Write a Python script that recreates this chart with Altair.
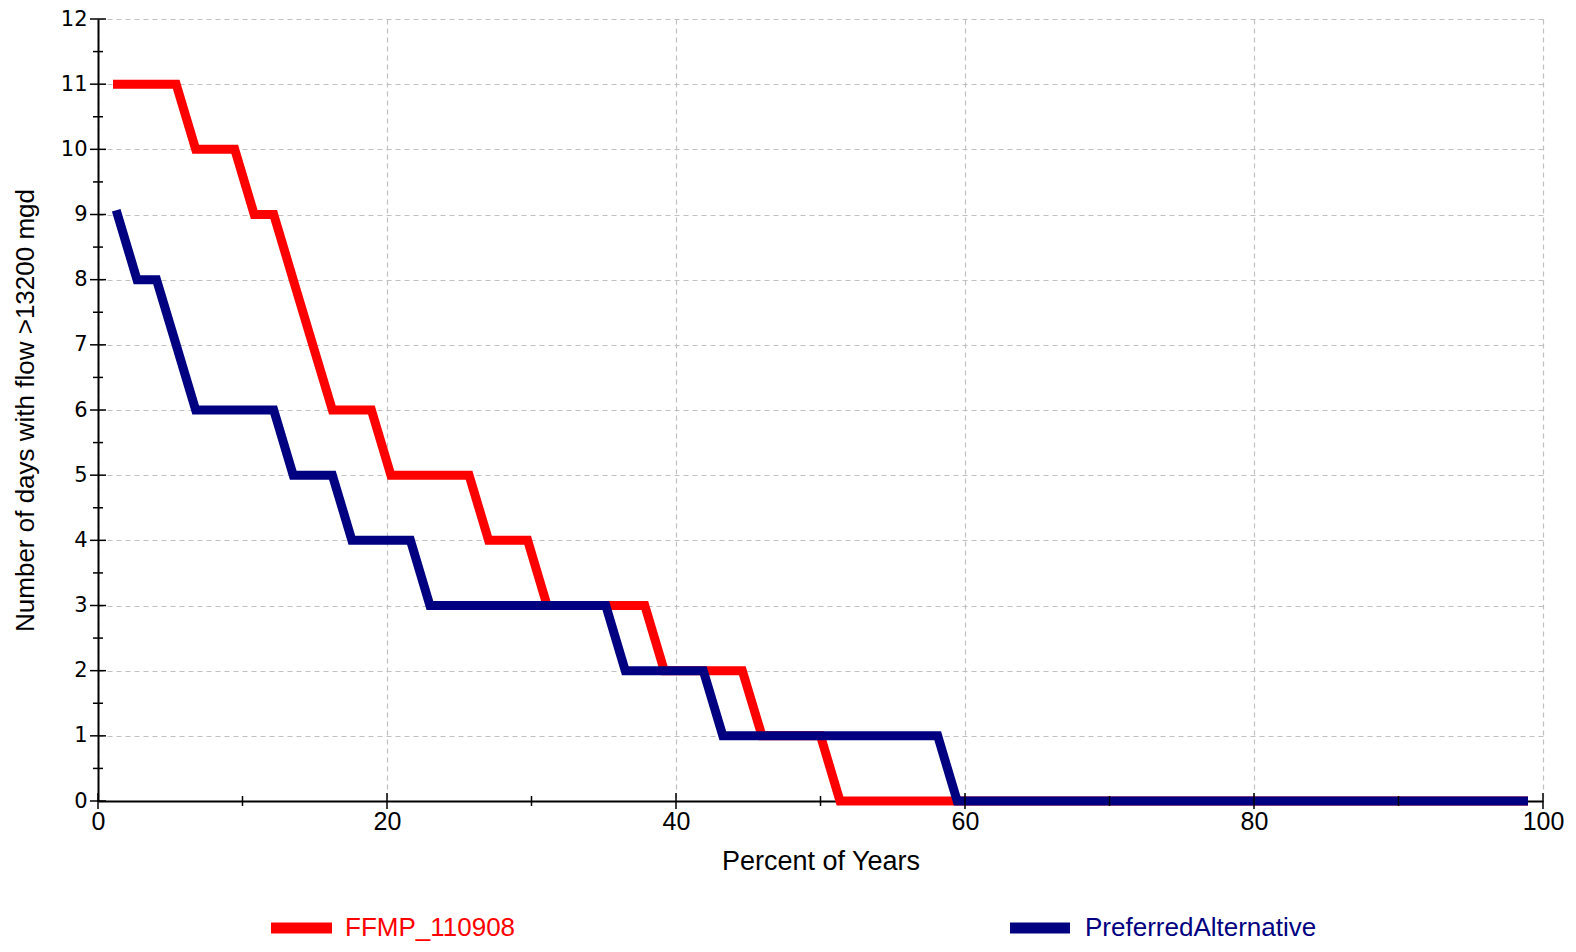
import altair as alt
import pandas as pd

# Exceedance (plotting) positions, percent of years
percent_of_years = [1.35, 2.70, 4.05, 5.41, 6.76, 8.11, 9.46, 10.81, 12.16, 13.51,
                    14.86, 16.22, 17.57, 18.92, 20.27, 21.62, 22.97, 24.32, 25.68, 27.03,
                    28.38, 29.73, 31.08, 32.43, 33.78, 35.14, 36.49, 37.84, 39.19, 40.54,
                    41.89, 43.24, 44.59, 45.95, 47.30, 48.65, 50.00, 51.35, 52.70, 54.05,
                    55.41, 56.76, 58.11, 59.46, 60.81, 62.16, 63.51, 64.86, 66.22, 67.57,
                    68.92, 70.27, 71.62, 72.97, 74.32, 75.68, 77.03, 78.38, 79.73, 81.08,
                    82.43, 83.78, 85.14, 86.49, 87.84, 89.19, 90.54, 91.89, 93.24, 94.59,
                    95.95, 97.30, 98.65]

ffmp_110908 = [11, 11, 11, 11, 10, 10, 10, 9, 9, 8,
               7, 6, 6, 6, 5, 5, 5, 5, 5, 4,
               4, 4, 3, 3, 3, 3, 3, 3, 2, 2,
               2, 2, 2, 1, 1, 1, 1, 0, 0, 0,
               0, 0, 0, 0, 0, 0, 0, 0, 0, 0,
               0, 0, 0, 0, 0, 0, 0, 0, 0, 0,
               0, 0, 0, 0, 0, 0, 0, 0, 0, 0,
               0, 0, 0]

preferred_alternative = [9, 8, 8, 7, 6, 6, 6, 6, 6, 5,
                         5, 5, 4, 4, 4, 4, 3, 3, 3, 3,
                         3, 3, 3, 3, 3, 3, 2, 2, 2, 2,
                         2, 1, 1, 1, 1, 1, 1, 1, 1, 1,
                         1, 1, 1, 0, 0, 0, 0, 0, 0, 0,
                         0, 0, 0, 0, 0, 0, 0, 0, 0, 0,
                         0, 0, 0, 0, 0, 0, 0, 0, 0, 0,
                         0, 0, 0]

series_names = ["FFMP_110908", "PreferredAlternative"]
series_colors = ["#ff0000", "#000080"]

x_major_ticks = [0, 20, 40, 60, 80, 100]
x_minor_ticks = [10, 30, 50, 70, 90]
y_major_ticks = [0, 1, 2, 3, 4, 5, 6, 7, 8, 9, 10, 11, 12]
y_minor_ticks = [0.5, 1.5, 2.5, 3.5, 4.5, 5.5, 6.5, 7.5, 8.5, 9.5, 10.5, 11.5]

W, H = 1445, 782
FONT = "Liberation Sans"


def series_df(name, values):
    return pd.DataFrame({"series": name, "pct": percent_of_years,
                         "days": values, "idx": list(range(len(values)))})


x_scale = alt.Scale(domain=[0, 100], nice=False, zero=False)
y_scale = alt.Scale(domain=[0, 12], nice=False, zero=False)

x_axis = alt.Axis(values=x_major_ticks, ticks=False, tickSize=0,
                  domainColor="black", domainWidth=2,
                  grid=True, gridColor="#c0c0c0", gridDash=[5, 4], gridWidth=1.2,
                  labelFont=FONT, labelFontSize=25, labelColor="black",
                  labelPadding=8, labelFlush=False, labelOverlap=False,
                  title="Percent of Years", titleFont=FONT, titleFontSize=27,
                  titleFontWeight="normal", titleColor="black",
                  titleX=W / 2, titleY=60, titleAlign="center", titleBaseline="middle")

y_axis = alt.Axis(values=y_major_ticks, ticks=False, tickSize=0,
                  domainColor="black", domainWidth=2,
                  grid=True, gridColor="#c0c0c0", gridDash=[5, 4], gridWidth=1.2,
                  labelFont="DejaVu Sans", labelFontSize=21, labelColor="black",
                  labelPadding=11, labelFlush=False, labelOverlap=False,
                  title="Number of days with flow >13200 mgd", titleFont=FONT,
                  titleFontSize=26, titleFontWeight="normal", titleColor="black",
                  titleX=-73, titleY=H / 2, titleAngle=270,
                  titleAlign="center", titleBaseline="middle")


def line_layer(i, values):
    return alt.Chart(series_df(series_names[i], values)).mark_line(
        color=series_colors[i], strokeWidth=9, strokeJoin="miter", strokeCap="square"
    ).encode(
        x=alt.X("pct:Q", scale=x_scale, axis=x_axis, title="Percent of Years"),
        y=alt.Y("days:Q", scale=y_scale, axis=y_axis,
                title="Number of days with flow >13200 mgd"),
        order="idx:Q",
    )


def x_ticks(vals, half):
    return alt.Chart(pd.DataFrame({"v": vals})).mark_rule(color="black", strokeWidth=1.5).encode(
        x=alt.X("v:Q", scale=x_scale, axis=x_axis, title="Percent of Years"),
        y=alt.value(H - half), y2=alt.value(H + half))


def y_ticks(vals, half):
    return alt.Chart(pd.DataFrame({"v": vals})).mark_rule(color="black", strokeWidth=1.5).encode(
        y=alt.Y("v:Q", scale=y_scale, axis=y_axis,
                title="Number of days with flow >13200 mgd"),
        x=alt.value(-half), x2=alt.value(half))


def legend_entry(i, x0, x1, xt, yc):
    d = pd.DataFrame({"series": [series_names[i]]})
    sym = alt.Chart(d).mark_rule(color=series_colors[i], strokeWidth=11, strokeCap="butt").encode(
        x=alt.value(x0), x2=alt.value(x1), y=alt.value(yc))
    txt = alt.Chart(d).mark_text(align="left", baseline="middle", font=FONT, fontSize=26,
                                 color=series_colors[i]).encode(
        x=alt.value(xt), y=alt.value(yc), text="series:N")
    return [sym, txt]


layers = [line_layer(0, ffmp_110908), line_layer(1, preferred_alternative),
          x_ticks(x_major_ticks, 8), x_ticks(x_minor_ticks, 5),
          y_ticks(y_major_ticks, 8), y_ticks(y_minor_ticks, 5)]
layers += legend_entry(0, 173, 234, 247, 909)
layers += legend_entry(1, 912, 972, 987, 909)

chart = alt.layer(*layers).properties(
    width=W, height=H,
    padding={"left": 90, "top": 11, "right": 21, "bottom": 143},
    autosize=alt.AutoSizeParams(type="none"),
    background="white",
).configure_view(stroke=None)

chart.save("out.html", embed_options={"renderer": "svg", "actions": False})
